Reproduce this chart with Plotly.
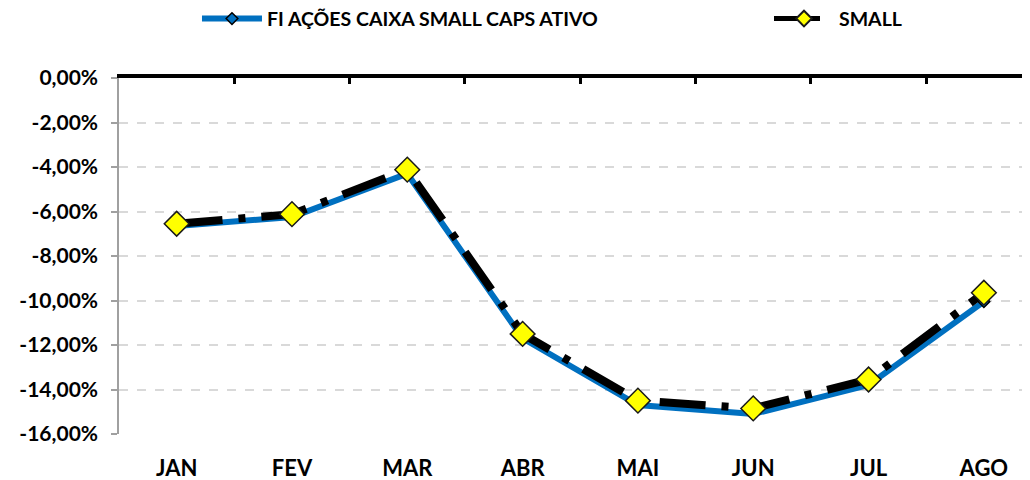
import plotly.graph_objects as go

months = ["JAN", "FEV", "MAR", "ABR", "MAI", "JUN", "JUL", "AGO"]
fi_acoes = [-6.65, -6.25, -4.30, -11.70, -14.70, -15.10, -13.80, -10.05]
small = [-6.55, -6.12, -4.12, -11.50, -14.50, -14.85, -13.55, -9.65]
y_ticks = [0, -2, -4, -6, -8, -10, -12, -14, -16]
y_labels = ["0,00%", "-2,00%", "-4,00%", "-6,00%", "-8,00%", "-10,00%", "-12,00%", "-14,00%", "-16,00%"]

xs = list(range(len(months)))
font_family = "Lato, 'Open Sans', sans-serif"
legend_font = dict(size=19.5, family=font_family, weight="bold")

fig = go.Figure()
fig.add_trace(go.Scatter(
    x=xs, y=fi_acoes, name="FI AÇÕES CAIXA SMALL CAPS ATIVO", mode="lines+markers",
    line=dict(color="#0070C0", width=6), legend="legend",
    marker=dict(symbol="diamond", size=9, color="#0070C0", line=dict(color="black", width=1.5)),
))
fig.add_trace(go.Scatter(
    x=xs, y=small, name="SMALL", mode="lines+markers", legend="legend2",
    line=dict(color="black", width=8, dash="46px,16px,7px,16px"),
    marker=dict(symbol="diamond", size=19, color="#FFFF00", line=dict(color="#1a1a1a", width=1.5)),
))
# invisible trace on top axis to carry the 0% axis line with boundary ticks
fig.add_trace(go.Scatter(x=[-0.5, 7.4], y=[None, None], xaxis="x2", showlegend=False, hoverinfo="skip"))

fig.update_layout(
    width=1022, height=472,
    margin=dict(l=111, r=0, t=70, b=46, autoexpand=False),
    plot_bgcolor="white", paper_bgcolor="white",
    font=dict(family=font_family, size=16, color="black"),
    showlegend=True,
    legend=dict(orientation="h", x=0.0856, y=1.166, yanchor="middle", xanchor="left",
                font=legend_font, itemwidth=60),
    legend2=dict(orientation="h", x=0.7135, y=1.166, yanchor="middle", xanchor="left",
                 font=legend_font, itemwidth=60, itemsizing="constant"),
    xaxis=dict(
        range=[-0.5, 7.4], tickvals=xs, ticktext=months, showgrid=False, zeroline=False,
        showline=False, ticks="", ticklabelstandoff=19, automargin=False,
        tickfont=dict(size=22, family=font_family, weight="bold"),
    ),
    xaxis2=dict(
        overlaying="x", side="top", range=[-0.5, 7.4],
        tickvals=[i - 0.5 for i in range(9)], showticklabels=False,
        ticks="inside", ticklen=6, tickwidth=3, tickcolor="black", automargin=False,
        showline=True, linewidth=4, linecolor="black", showgrid=False, zeroline=False,
    ),
    yaxis=dict(
        range=[-16, 0], tickvals=y_ticks, ticktext=y_labels, automargin=False,
        showgrid=True, gridcolor="#d9d9d9", griddash="dash", gridwidth=1.5,
        showline=True, linecolor="#a0a0a0", linewidth=1.5,
        ticks="outside", ticklen=6, tickcolor="#a0a0a0", tickwidth=1.5,
        zeroline=False, ticklabelstandoff=9,
        tickfont=dict(size=21, family=font_family, weight="bold"),
    ),
)
fig.write_html("out.html")
